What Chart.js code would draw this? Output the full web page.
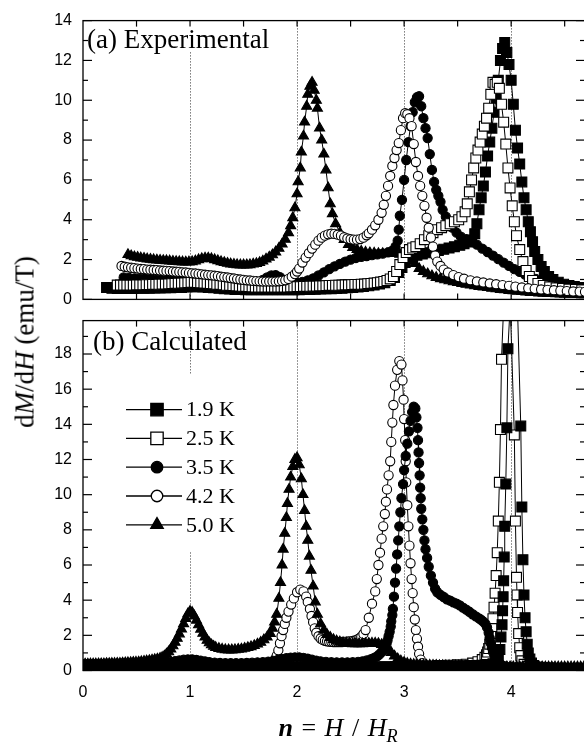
<!DOCTYPE html>
<html>
<head>
<meta charset="utf-8">
<script src="https://cdn.jsdelivr.net/npm/chart.js@4.4.1/dist/chart.umd.min.js"></script>
<style>
  html, body { margin:0; padding:0; background:#fff; }
  #wrap { position:relative; width:584px; height:747px; overflow:hidden; background:#fff; }
  #wrap canvas { position:absolute; left:0; }
  #top { top:0; }
  #bot { top:300px; }
  .serif { font-family:"Liberation Serif","Times New Roman",serif; color:#000; position:absolute; white-space:nowrap; }
  #ytitle { left:25px; top:342px; font-size:27px; line-height:27px; transform:translate(-50%,-50%) rotate(-90deg); }
  #xtitle { left:338px; top:713px; font-size:26px; line-height:30px; word-spacing:2px; transform:translateX(-50%); }
  #xtitle sub { font-size:70%; vertical-align:-0.35em; line-height:0; }
</style>
</head>
<body>
<div id="wrap">
  <canvas id="top" width="600" height="320" style="width:600px;height:320px"></canvas>
  <canvas id="bot" width="600" height="447" style="width:600px;height:447px"></canvas>
  <div id="ytitle" class="serif">d<i>M</i>/d<i>H</i> (emu/T)</div>
  <div id="xtitle" class="serif"><b><i>n</i></b> = <i>H</i> / <i>H</i><sub><i>R</i></sub></div>
</div>
<script>
// ---------- tick values ----------
const xTickLabels = [0, 1, 2, 3, 4];
const xTickMarks = [0.5, 1, 1.5, 2, 2.5, 3, 3.5, 4, 4.5];
const yTicksTop = [0, 2, 4, 6, 8, 10, 12, 14];
const yMinorTop = [1, 3, 5, 7, 9, 11, 13];
const yTicksBottom = [0, 2, 4, 6, 8, 10, 12, 14, 16, 18];
const yMinorBottom = [1, 3, 5, 7, 9, 11, 13, 15, 17, 19];
const seriesLabels = ['1.9 K', '2.5 K', '3.5 K', '4.2 K', '5.0 K'];

// ---------- (a) Experimental: [n, dM/dH] ----------
const exp19 = [[0.22,0.6],[0.27,0.56],[0.32,0.55],[0.37,0.55],[0.42,0.55],[0.47,0.55],[0.52,0.56],[0.57,0.56],[0.62,0.56],[0.67,0.57],[0.72,0.57],[0.77,0.58],[0.82,0.58],[0.87,0.6],[0.92,0.6],[0.97,0.62],[1.02,0.63],[1.07,0.63],[1.12,0.62],[1.17,0.6],[1.22,0.58],[1.27,0.56],[1.32,0.54],[1.37,0.52],[1.42,0.5],[1.47,0.5],[1.52,0.48],[1.57,0.48],[1.62,0.48],[1.67,0.48],[1.72,0.48],[1.77,0.48],[1.82,0.48],[1.87,0.48],[1.92,0.48],[1.97,0.48],[2.02,0.49],[2.07,0.5],[2.12,0.5],[2.17,0.51],[2.22,0.52],[2.27,0.53],[2.32,0.54],[2.37,0.55],[2.42,0.56],[2.47,0.58],[2.52,0.6],[2.57,0.62],[2.62,0.65],[2.67,0.68],[2.72,0.72],[2.77,0.77],[2.82,0.84],[2.87,0.95],[2.91,1.1],[2.95,1.35],[2.98,1.6],[3.01,1.85],[3.04,2.05],[3.08,2.15],[3.12,2.22],[3.17,2.28],[3.22,2.34],[3.27,2.4],[3.32,2.46],[3.37,2.52],[3.42,2.58],[3.47,2.65],[3.52,2.72],[3.56,2.8],[3.6,2.88],[3.63,2.98],[3.66,3.3],[3.68,3.8],[3.7,4.5],[3.72,5.1],[3.74,5.7],[3.76,6.4],[3.78,7.2],[3.8,7.9],[3.82,8.6],[3.84,9.4],[3.86,10.1],[3.88,11.0],[3.9,12.0],[3.92,12.6],[3.94,12.9],[3.96,12.4],[3.98,11.8],[4.0,11.0],[4.02,9.8],[4.04,8.5],[4.06,7.6],[4.08,6.8],[4.1,5.9],[4.12,5.1],[4.14,4.5],[4.16,3.9],[4.18,3.4],[4.2,2.9],[4.22,2.4],[4.25,2.0],[4.28,1.65],[4.31,1.4],[4.35,1.15],[4.39,1.0],[4.44,0.86],[4.49,0.76],[4.54,0.7],[4.59,0.65],[4.64,0.6],[4.69,0.57]];
const exp25 = [[0.32,0.72],[0.35,0.72],[0.38,0.72],[0.41,0.72],[0.44,0.72],[0.47,0.72],[0.5,0.73],[0.53,0.73],[0.56,0.73],[0.59,0.74],[0.62,0.74],[0.65,0.75],[0.68,0.75],[0.71,0.76],[0.74,0.77],[0.77,0.77],[0.8,0.78],[0.83,0.79],[0.86,0.8],[0.89,0.81],[0.92,0.82],[0.95,0.83],[0.98,0.84],[1.01,0.85],[1.04,0.85],[1.07,0.84],[1.1,0.83],[1.13,0.82],[1.16,0.8],[1.19,0.79],[1.22,0.78],[1.25,0.76],[1.28,0.75],[1.31,0.73],[1.34,0.71],[1.37,0.7],[1.4,0.69],[1.43,0.68],[1.46,0.67],[1.49,0.66],[1.52,0.65],[1.55,0.64],[1.58,0.63],[1.61,0.62],[1.64,0.62],[1.67,0.62],[1.7,0.62],[1.73,0.62],[1.76,0.62],[1.79,0.62],[1.82,0.62],[1.85,0.62],[1.88,0.62],[1.91,0.62],[1.94,0.63],[1.97,0.63],[2.0,0.64],[2.03,0.64],[2.06,0.65],[2.09,0.65],[2.12,0.66],[2.15,0.67],[2.18,0.67],[2.21,0.68],[2.24,0.68],[2.27,0.69],[2.3,0.7],[2.33,0.7],[2.36,0.71],[2.39,0.71],[2.42,0.72],[2.45,0.73],[2.48,0.73],[2.51,0.74],[2.54,0.75],[2.57,0.75],[2.6,0.76],[2.63,0.77],[2.66,0.79],[2.69,0.8],[2.72,0.82],[2.75,0.84],[2.78,0.87],[2.81,0.9],[2.84,0.95],[2.87,1.03],[2.9,1.15],[2.93,1.4],[2.96,1.75],[2.99,2.1],[3.02,2.35],[3.05,2.5],[3.08,2.58],[3.11,2.65],[3.15,2.8],[3.19,3.0],[3.23,3.2],[3.27,3.35],[3.31,3.5],[3.35,3.6],[3.39,3.7],[3.43,3.8],[3.47,3.9],[3.51,4.0],[3.54,4.15],[3.57,4.4],[3.59,4.8],[3.61,5.4],[3.63,6.0],[3.65,6.6],[3.67,7.1],[3.69,7.5],[3.71,7.9],[3.73,8.3],[3.75,8.7],[3.77,9.1],[3.79,9.6],[3.81,10.3],[3.83,10.9],[3.85,10.8],[3.87,10.9],[3.89,10.6],[3.91,9.8],[3.93,8.9],[3.95,7.8],[3.97,6.6],[3.99,5.6],[4.01,4.7],[4.03,3.9],[4.05,3.2],[4.08,2.5],[4.11,1.9],[4.14,1.45],[4.17,1.15],[4.2,0.95],[4.25,0.8],[4.3,0.7],[4.36,0.63],[4.42,0.58],[4.48,0.55],[4.54,0.52],[4.6,0.5],[4.66,0.48]];
const exp35 = [[0.38,1.1],[0.43,1.08],[0.48,1.06],[0.53,1.05],[0.58,1.04],[0.63,1.02],[0.68,1.0],[0.73,0.98],[0.78,0.97],[0.83,0.96],[0.88,0.95],[0.93,0.94],[0.98,0.93],[1.03,0.92],[1.08,0.9],[1.13,0.88],[1.18,0.86],[1.23,0.84],[1.28,0.82],[1.33,0.8],[1.38,0.78],[1.43,0.77],[1.48,0.77],[1.53,0.78],[1.58,0.8],[1.63,0.86],[1.68,0.98],[1.72,1.1],[1.76,1.2],[1.8,1.22],[1.84,1.12],[1.88,0.98],[1.92,0.88],[1.96,0.84],[2.0,0.84],[2.05,0.88],[2.1,0.96],[2.15,1.06],[2.2,1.2],[2.25,1.36],[2.3,1.52],[2.35,1.66],[2.4,1.78],[2.45,1.9],[2.5,2.0],[2.55,2.08],[2.6,2.14],[2.65,2.18],[2.7,2.22],[2.75,2.26],[2.8,2.3],[2.85,2.36],[2.89,2.45],[2.92,2.65],[2.94,2.95],[2.95,3.5],[2.96,4.2],[2.98,5.0],[3.0,6.0],[3.02,7.0],[3.04,7.9],[3.06,8.7],[3.08,9.4],[3.1,9.9],[3.12,10.15],[3.14,10.2],[3.16,9.7],[3.18,9.1],[3.2,8.6],[3.22,8.1],[3.24,7.3],[3.26,6.5],[3.28,5.9],[3.3,5.5],[3.32,5.2],[3.34,4.9],[3.36,4.5],[3.39,4.15],[3.42,3.85],[3.45,3.6],[3.49,3.35],[3.53,3.15],[3.58,3.02],[3.63,2.92],[3.68,2.75],[3.73,2.55],[3.78,2.38],[3.83,2.2],[3.88,2.02],[3.93,1.85],[3.98,1.68],[4.03,1.52],[4.08,1.38],[4.13,1.25],[4.18,1.13],[4.23,1.03],[4.28,0.95],[4.33,0.88],[4.38,0.82],[4.43,0.76],[4.48,0.71],[4.53,0.67],[4.58,0.63],[4.63,0.6],[4.68,0.57]];
const exp42 = [[0.36,1.68],[0.39,1.64],[0.42,1.61],[0.45,1.59],[0.48,1.57],[0.51,1.55],[0.54,1.53],[0.57,1.52],[0.6,1.5],[0.63,1.49],[0.66,1.48],[0.69,1.47],[0.72,1.45],[0.75,1.44],[0.78,1.43],[0.81,1.42],[0.84,1.4],[0.87,1.39],[0.9,1.38],[0.93,1.36],[0.96,1.35],[0.99,1.33],[1.02,1.31],[1.05,1.3],[1.08,1.28],[1.11,1.26],[1.14,1.24],[1.17,1.22],[1.2,1.21],[1.23,1.19],[1.26,1.17],[1.29,1.14],[1.32,1.12],[1.35,1.1],[1.38,1.07],[1.41,1.05],[1.44,1.02],[1.47,1.0],[1.5,0.98],[1.53,0.96],[1.56,0.95],[1.59,0.93],[1.62,0.92],[1.65,0.91],[1.68,0.9],[1.71,0.9],[1.74,0.9],[1.77,0.9],[1.8,0.9],[1.83,0.91],[1.86,0.93],[1.89,0.96],[1.92,1.03],[1.95,1.14],[1.98,1.27],[2.0,1.4],[2.02,1.55],[2.05,1.85],[2.08,2.1],[2.11,2.32],[2.14,2.55],[2.17,2.75],[2.2,2.95],[2.23,3.1],[2.26,3.2],[2.29,3.27],[2.32,3.3],[2.35,3.29],[2.38,3.25],[2.41,3.2],[2.44,3.12],[2.47,3.06],[2.5,3.02],[2.53,3.0],[2.56,3.0],[2.59,3.03],[2.62,3.1],[2.65,3.22],[2.67,3.32],[2.7,3.5],[2.73,3.72],[2.76,4.0],[2.79,4.35],[2.81,4.75],[2.83,5.2],[2.85,5.7],[2.87,6.2],[2.89,6.7],[2.91,7.1],[2.93,7.5],[2.95,7.85],[2.97,8.5],[2.99,9.1],[3.01,9.35],[3.03,9.3],[3.05,9.1],[3.07,8.7],[3.09,7.8],[3.11,6.9],[3.13,6.2],[3.15,5.7],[3.17,5.2],[3.19,4.7],[3.21,4.1],[3.23,3.6],[3.25,3.1],[3.27,2.65],[3.29,2.2],[3.31,1.9],[3.34,1.68],[3.37,1.5],[3.41,1.35],[3.46,1.22],[3.51,1.12],[3.56,1.04],[3.62,0.96],[3.68,0.9],[3.74,0.85],[3.8,0.8],[3.86,0.76],[3.92,0.72],[3.98,0.68],[4.04,0.64],[4.1,0.6],[4.16,0.56],[4.22,0.53],[4.28,0.5],[4.34,0.48],[4.4,0.46],[4.46,0.44],[4.52,0.42],[4.58,0.4],[4.64,0.39],[4.69,0.38]];
const exp50 = [[0.42,2.25],[0.45,2.19],[0.48,2.14],[0.51,2.11],[0.54,2.08],[0.57,2.06],[0.6,2.03],[0.63,2.01],[0.66,1.99],[0.69,1.97],[0.72,1.96],[0.75,1.95],[0.78,1.94],[0.81,1.93],[0.84,1.91],[0.87,1.9],[0.9,1.89],[0.93,1.88],[0.96,1.87],[0.99,1.88],[1.02,1.89],[1.05,1.93],[1.08,1.99],[1.11,2.04],[1.14,2.07],[1.17,2.07],[1.2,2.04],[1.23,1.99],[1.26,1.94],[1.29,1.89],[1.32,1.85],[1.35,1.81],[1.38,1.78],[1.41,1.76],[1.44,1.74],[1.47,1.73],[1.5,1.73],[1.53,1.73],[1.56,1.74],[1.59,1.77],[1.62,1.8],[1.65,1.85],[1.68,1.92],[1.71,2.02],[1.74,2.12],[1.77,2.24],[1.8,2.38],[1.83,2.56],[1.86,2.78],[1.89,3.02],[1.92,3.35],[1.94,3.7],[1.96,4.1],[1.98,4.6],[2.0,5.3],[2.01,5.9],[2.03,6.6],[2.04,7.4],[2.06,8.2],[2.07,8.9],[2.09,9.7],[2.1,10.3],[2.12,10.7],[2.14,10.9],[2.16,10.5],[2.18,10.0],[2.19,9.6],[2.21,8.6],[2.23,8.0],[2.25,7.3],[2.27,6.5],[2.29,5.6],[2.31,4.8],[2.33,4.3],[2.36,3.8],[2.4,3.35],[2.44,3.0],[2.48,2.75],[2.52,2.6],[2.56,2.5],[2.6,2.42],[2.64,2.37],[2.68,2.34],[2.72,2.32],[2.76,2.3],[2.8,2.3],[2.84,2.3],[2.88,2.3],[2.92,2.3],[2.96,2.26],[3.0,2.18],[3.03,2.12],[3.06,2.08],[3.1,1.8],[3.14,1.55],[3.18,1.4],[3.22,1.28],[3.26,1.18],[3.3,1.1],[3.34,1.04],[3.38,0.98],[3.42,0.93],[3.46,0.88],[3.5,0.84],[3.54,0.8],[3.58,0.76],[3.62,0.72],[3.66,0.68],[3.7,0.65],[3.74,0.62],[3.78,0.59],[3.82,0.56],[3.86,0.53],[3.9,0.5],[3.94,0.48],[3.98,0.45],[4.02,0.43],[4.06,0.41],[4.1,0.39],[4.14,0.37],[4.18,0.35],[4.22,0.34],[4.26,0.32],[4.3,0.31],[4.34,0.3],[4.38,0.29],[4.42,0.28],[4.46,0.27],[4.5,0.26],[4.54,0.25],[4.58,0.25],[4.62,0.24],[4.66,0.23],[4.69,0.23]];

// ---------- (b) Calculated: [n, dM/dH] ----------
const calc19 = [[0.02,0.1],[0.07,0.1],[0.12,0.1],[0.17,0.1],[0.22,0.1],[0.27,0.1],[0.32,0.1],[0.37,0.1],[0.42,0.11],[0.47,0.11],[0.52,0.11],[0.57,0.11],[0.62,0.11],[0.67,0.11],[0.72,0.12],[0.77,0.12],[0.82,0.12],[0.87,0.12],[0.92,0.12],[0.97,0.13],[1.02,0.13],[1.07,0.13],[1.12,0.13],[1.17,0.13],[1.22,0.13],[1.27,0.13],[1.32,0.13],[1.37,0.13],[1.42,0.14],[1.47,0.14],[1.52,0.14],[1.57,0.14],[1.62,0.14],[1.67,0.14],[1.72,0.14],[1.77,0.15],[1.82,0.15],[1.87,0.15],[1.92,0.15],[1.97,0.16],[2.02,0.16],[2.07,0.16],[2.12,0.16],[2.17,0.16],[2.22,0.17],[2.27,0.17],[2.32,0.17],[2.37,0.17],[2.42,0.18],[2.47,0.18],[2.52,0.18],[2.57,0.18],[2.62,0.19],[2.67,0.19],[2.72,0.19],[2.77,0.2],[2.82,0.2],[2.87,0.2],[2.92,0.21],[2.97,0.21],[3.02,0.21],[3.07,0.22],[3.12,0.22],[3.17,0.22],[3.22,0.23],[3.27,0.23],[3.32,0.24],[3.37,0.24],[3.42,0.25],[3.47,0.25],[3.52,0.26],[3.57,0.27],[3.62,0.28],[3.67,0.29],[3.72,0.3],[3.76,0.32],[3.8,0.34],[3.83,0.38],[3.86,0.45],[3.88,0.65],[3.895,1.2],[3.905,1.9],[3.915,2.6],[3.92,3.4],[3.925,4.2],[3.93,5.1],[3.935,6.45],[3.94,8.2],[3.95,10.6],[3.96,13.8],[3.97,18.3],[4.035,26],[4.09,13.9],[4.1,9.3],[4.11,6.3],[4.12,4.3],[4.13,3.0],[4.14,2.2],[4.15,1.5],[4.16,1.0],[4.175,0.65],[4.19,0.42],[4.21,0.28],[4.25,0.2],[4.3,0.16],[4.35,0.14],[4.4,0.13],[4.45,0.12],[4.5,0.12],[4.55,0.11],[4.6,0.11],[4.65,0.11],[4.69,0.1]];
const calc25 = [[0.02,0.12],[0.12,0.12],[0.22,0.12],[0.32,0.12],[0.42,0.13],[0.52,0.13],[0.62,0.13],[0.72,0.14],[0.82,0.14],[0.92,0.15],[1.02,0.15],[1.12,0.15],[1.22,0.15],[1.32,0.15],[1.42,0.15],[1.52,0.16],[1.62,0.16],[1.72,0.16],[1.82,0.17],[1.92,0.17],[2.02,0.18],[2.12,0.18],[2.22,0.18],[2.32,0.19],[2.42,0.19],[2.52,0.2],[2.62,0.2],[2.72,0.21],[2.82,0.22],[2.92,0.23],[3.02,0.24],[3.12,0.25],[3.22,0.26],[3.32,0.28],[3.42,0.3],[3.5,0.32],[3.58,0.36],[3.64,0.42],[3.69,0.5],[3.73,0.62],[3.755,0.75],[3.77,0.9],[3.78,1.05],[3.79,1.25],[3.8,1.5],[3.805,1.8],[3.81,2.1],[3.82,2.5],[3.83,2.95],[3.84,3.6],[3.85,4.4],[3.86,5.4],[3.87,6.7],[3.88,8.5],[3.89,10.7],[3.9,13.7],[3.91,17.7],[3.965,26],[4.03,13.4],[4.04,8.5],[4.05,5.3],[4.055,4.3],[4.06,3.3],[4.07,2.1],[4.08,1.3],[4.09,0.85],[4.1,0.55],[4.12,0.35],[4.15,0.24],[4.2,0.18],[4.3,0.14],[4.4,0.12],[4.5,0.11],[4.6,0.1],[4.69,0.1]];
const calc35 = [[0.02,0.38],[0.07,0.38],[0.12,0.38],[0.17,0.38],[0.22,0.39],[0.27,0.39],[0.32,0.39],[0.37,0.4],[0.42,0.4],[0.47,0.4],[0.52,0.41],[0.57,0.41],[0.62,0.42],[0.67,0.43],[0.72,0.44],[0.77,0.46],[0.82,0.49],[0.86,0.53],[0.9,0.57],[0.94,0.61],[0.98,0.63],[1.02,0.63],[1.06,0.6],[1.1,0.56],[1.14,0.52],[1.18,0.48],[1.23,0.45],[1.28,0.43],[1.33,0.42],[1.38,0.42],[1.43,0.42],[1.48,0.42],[1.53,0.43],[1.58,0.44],[1.63,0.46],[1.68,0.48],[1.73,0.51],[1.78,0.55],[1.82,0.6],[1.86,0.65],[1.9,0.7],[1.94,0.73],[1.98,0.75],[2.02,0.75],[2.06,0.72],[2.1,0.67],[2.14,0.61],[2.18,0.56],[2.22,0.52],[2.27,0.49],[2.32,0.47],[2.37,0.46],[2.42,0.46],[2.47,0.46],[2.52,0.47],[2.57,0.49],[2.61,0.52],[2.65,0.57],[2.69,0.64],[2.72,0.72],[2.75,0.82],[2.77,0.92],[2.79,1.05],[2.81,1.17],[2.82,1.3],[2.835,1.5],[2.845,1.7],[2.855,1.95],[2.865,2.2],[2.875,2.5],[2.88,2.8],[2.89,3.15],[2.895,3.5],[2.905,4.2],[2.915,5.0],[2.925,5.8],[2.935,6.6],[2.945,7.4],[2.955,8.2],[2.965,9.0],[2.975,9.8],[2.99,10.6],[3.0,11.4],[3.015,12.2],[3.03,12.9],[3.045,13.6],[3.06,14.2],[3.075,14.7],[3.09,15.0],[3.105,14.9],[3.115,14.4],[3.125,13.8],[3.13,13.1],[3.135,12.4],[3.14,11.8],[3.145,11.1],[3.15,10.4],[3.155,9.8],[3.16,9.2],[3.17,8.6],[3.18,8.0],[3.19,7.4],[3.2,6.9],[3.215,6.4],[3.23,5.9],[3.25,5.4],[3.27,5.0],[3.29,4.65],[3.31,4.45],[3.34,4.3],[3.37,4.18],[3.4,4.05],[3.43,3.97],[3.46,3.88],[3.49,3.8],[3.52,3.7],[3.55,3.58],[3.58,3.46],[3.61,3.34],[3.64,3.2],[3.67,3.08],[3.7,2.96],[3.72,2.88],[3.74,2.78],[3.76,2.65],[3.775,2.45],[3.79,2.15],[3.8,1.85],[3.81,1.55],[3.82,1.3],[3.83,1.05],[3.845,0.8],[3.86,0.6],[3.88,0.42],[3.91,0.3],[3.95,0.24],[4.0,0.2],[4.05,0.18],[4.1,0.17],[4.2,0.16],[4.3,0.15],[4.4,0.15],[4.5,0.14],[4.6,0.14],[4.69,0.14]];
const calc42 = [[0.02,0.26],[0.1,0.26],[0.2,0.27],[0.3,0.27],[0.4,0.28],[0.5,0.28],[0.6,0.29],[0.7,0.3],[0.8,0.31],[0.9,0.33],[1.0,0.35],[1.1,0.34],[1.2,0.33],[1.3,0.33],[1.4,0.34],[1.5,0.35],[1.6,0.37],[1.68,0.4],[1.74,0.45],[1.78,0.55],[1.795,0.65],[1.81,0.85],[1.825,1.15],[1.84,1.55],[1.855,1.95],[1.87,2.3],[1.885,2.65],[1.9,3.0],[1.92,3.35],[1.945,3.75],[1.97,4.1],[2.0,4.45],[2.03,4.6],[2.06,4.5],[2.085,4.2],[2.1,3.9],[2.12,3.5],[2.135,3.1],[2.15,2.75],[2.165,2.4],[2.18,2.15],[2.2,1.95],[2.22,1.82],[2.24,1.74],[2.26,1.69],[2.28,1.66],[2.3,1.64],[2.32,1.63],[2.34,1.62],[2.36,1.62],[2.38,1.62],[2.4,1.62],[2.42,1.62],[2.44,1.63],[2.46,1.64],[2.48,1.65],[2.5,1.66],[2.52,1.68],[2.54,1.71],[2.56,1.75],[2.58,1.82],[2.6,1.92],[2.62,2.08],[2.64,2.3],[2.67,3.0],[2.7,3.8],[2.73,4.5],[2.745,5.2],[2.76,6.0],[2.775,6.7],[2.79,7.5],[2.805,8.2],[2.82,8.9],[2.83,9.6],[2.84,10.3],[2.855,11.1],[2.87,11.9],[2.88,13.0],[2.89,14.1],[2.9,15.1],[2.915,16.2],[2.935,17.1],[2.955,17.6],[2.975,17.4],[2.985,16.5],[2.995,15.4],[3.0,14.3],[3.01,13.1],[3.015,11.9],[3.02,10.7],[3.03,9.4],[3.04,8.2],[3.05,7.1],[3.06,6.1],[3.07,5.2],[3.08,4.4],[3.09,3.6],[3.1,2.9],[3.11,2.3],[3.12,1.8],[3.13,1.35],[3.14,0.95],[3.155,0.62],[3.17,0.42],[3.2,0.26],[3.25,0.18],[3.3,0.15],[3.4,0.12],[3.55,0.1],[3.7,0.09],[3.85,0.08],[4.0,0.08],[4.15,0.07],[4.3,0.07],[4.45,0.07],[4.6,0.07],[4.69,0.07]];
const calc50 = [[0.02,0.36],[0.045,0.36],[0.07,0.37],[0.095,0.37],[0.12,0.37],[0.145,0.38],[0.17,0.38],[0.195,0.38],[0.22,0.39],[0.245,0.39],[0.27,0.4],[0.295,0.4],[0.32,0.41],[0.345,0.41],[0.37,0.42],[0.395,0.43],[0.42,0.44],[0.445,0.45],[0.47,0.46],[0.495,0.47],[0.52,0.48],[0.545,0.5],[0.57,0.52],[0.595,0.54],[0.62,0.56],[0.645,0.59],[0.67,0.62],[0.695,0.65],[0.72,0.69],[0.74,0.74],[0.76,0.82],[0.78,0.93],[0.8,1.06],[0.82,1.22],[0.84,1.4],[0.86,1.6],[0.88,1.83],[0.9,2.08],[0.92,2.36],[0.94,2.66],[0.96,2.96],[0.98,3.22],[1.0,3.36],[1.02,3.3],[1.04,3.1],[1.06,2.86],[1.08,2.6],[1.1,2.35],[1.12,2.11],[1.14,1.9],[1.16,1.72],[1.18,1.57],[1.2,1.46],[1.22,1.37],[1.24,1.31],[1.27,1.25],[1.3,1.21],[1.33,1.18],[1.36,1.17],[1.39,1.17],[1.42,1.18],[1.45,1.2],[1.48,1.22],[1.51,1.26],[1.54,1.3],[1.57,1.35],[1.6,1.42],[1.63,1.5],[1.66,1.6],[1.69,1.74],[1.72,1.9],[1.75,2.1],[1.77,2.4],[1.79,2.75],[1.81,3.2],[1.83,4.1],[1.845,5.0],[1.86,6.0],[1.87,6.9],[1.885,7.8],[1.9,8.7],[1.91,9.5],[1.925,10.3],[1.94,11.0],[1.96,11.6],[1.98,12.0],[2.0,12.1],[2.02,11.7],[2.04,10.9],[2.055,10.0],[2.07,9.1],[2.085,8.2],[2.1,7.4],[2.115,6.5],[2.13,5.7],[2.15,4.8],[2.17,3.9],[2.19,3.2],[2.22,2.65],[2.25,2.3],[2.28,2.05],[2.31,1.88],[2.34,1.76],[2.37,1.68],[2.4,1.62],[2.43,1.58],[2.46,1.55],[2.49,1.53],[2.52,1.52],[2.55,1.52],[2.58,1.52],[2.61,1.52],[2.64,1.53],[2.67,1.54],[2.7,1.55],[2.73,1.55],[2.76,1.53],[2.79,1.47],[2.82,1.37],[2.85,1.22],[2.88,1.02],[2.91,0.82],[2.94,0.66],[2.97,0.54],[3.0,0.46],[3.03,0.4],[3.06,0.36],[3.09,0.34],[3.12,0.33],[3.15,0.32],[3.18,0.31],[3.21,0.3],[3.24,0.3],[3.27,0.29],[3.3,0.29],[3.33,0.28],[3.36,0.28],[3.39,0.27],[3.42,0.27],[3.45,0.26],[3.48,0.26],[3.51,0.26],[3.54,0.25],[3.57,0.25],[3.6,0.25],[3.63,0.24],[3.66,0.24],[3.69,0.24],[3.72,0.23],[3.75,0.23],[3.78,0.23],[3.81,0.23],[3.84,0.22],[3.87,0.22],[3.9,0.22],[3.93,0.22],[3.96,0.21],[3.99,0.21],[4.02,0.21],[4.05,0.21],[4.08,0.21],[4.11,0.2],[4.14,0.2],[4.17,0.2],[4.2,0.2],[4.23,0.2],[4.26,0.2],[4.29,0.2],[4.32,0.2],[4.35,0.2],[4.38,0.2],[4.41,0.2],[4.44,0.2],[4.47,0.2],[4.5,0.2],[4.53,0.2],[4.56,0.2],[4.59,0.2],[4.62,0.2],[4.65,0.2],[4.68,0.2]];

// ---------- styling ----------
const markerStyle = {
  '1.9 K': { shape: 'rect',     fill: '#000', r: 7 },
  '2.5 K': { shape: 'rect',     fill: '#fff', r: 7 },
  '3.5 K': { shape: 'circle',   fill: '#000', r: 4.6 },
  '4.2 K': { shape: 'circle',   fill: '#fff', r: 4.6 },
  '5.0 K': { shape: 'triangle', fill: '#000', r: 5.8 }
};
const X_MAX = 4.69;

function mkDataset(label, pts, order) {
  const st = markerStyle[label];
  return {
    label, order,
    data: pts.map(p => ({ x: p[0], y: p[1] })),
    showLine: true, borderColor: '#000', borderWidth: 1, tension: 0, fill: false,
    pointStyle: st.shape, pointRadius: st.r, pointHoverRadius: st.r,
    pointBackgroundColor: st.fill, pointBorderColor: '#000', pointBorderWidth: 1.1
  };
}

const panelDeco = {
  id: 'panelDeco',
  beforeDatasetsDraw(chart, args, o) {
    const { ctx, scales: { x, y } } = chart;
    ctx.save();
    ctx.strokeStyle = '#333'; ctx.lineWidth = 1; ctx.setLineDash([1, 2]);
    o.dotted.forEach(s => {
      const px = Math.round(x.getPixelForValue(s.n)) + 0.5;
      ctx.beginPath();
      ctx.moveTo(px, y.getPixelForValue(s.from));
      ctx.lineTo(px, y.getPixelForValue(s.to));
      ctx.stroke();
    });
    ctx.restore();
  },
  afterDatasetsDraw(chart, args, o) {
    const { ctx, chartArea: a, scales: { x, y } } = chart;
    ctx.save();
    ctx.setLineDash([]);
    ctx.strokeStyle = '#000';
    const seg = (x1, y1, x2, y2) => { ctx.beginPath(); ctx.moveTo(x1, y1); ctx.lineTo(x2, y2); ctx.stroke(); };
    ctx.lineWidth = 1.3;
    ctx.strokeRect(a.left, a.top, a.right - a.left, a.bottom - a.top);
    ctx.lineWidth = 1.2;
    xTickMarks.forEach(v => { const px = x.getPixelForValue(v); seg(px, a.top, px, a.top + 6); seg(px, a.bottom, px, a.bottom - 6); });
    o.yMajor.forEach(v => { const py = y.getPixelForValue(v); seg(a.left, py, a.left + 9, py); seg(a.right, py, a.right - 9, py); });
    o.yMinor.forEach(v => { const py = y.getPixelForValue(v); seg(a.left, py, a.left + 5, py); seg(a.right, py, a.right - 5, py); });
    ctx.fillStyle = '#000';
    ctx.font = '27px "Liberation Serif", "Times New Roman", serif';
    ctx.textAlign = 'left'; ctx.textBaseline = 'alphabetic';
    ctx.fillText(o.label, a.left + o.labelDx, a.top + o.labelDy);
    if (o.legend) {
      const L = o.legend;
      seriesLabels.forEach((lab, i) => {
        const ds = chart.data.datasets.find(d => d.label === lab);
        const cy = a.top + L.dy + i * L.step;
        ctx.strokeStyle = '#000'; ctx.lineWidth = 1.3;
        seg(a.left + L.x1, cy, a.left + L.x2, cy);
        ctx.fillStyle = ds.pointBackgroundColor; ctx.lineWidth = 1.3;
        Chart.helpers.drawPoint(ctx, { pointStyle: ds.pointStyle, radius: ds.pointRadius * 1.25, rotation: 0, borderWidth: 1.3 }, a.left + L.xm, cy);
        ctx.fillStyle = '#000';
        ctx.font = '22px "Liberation Serif", "Times New Roman", serif';
        ctx.textBaseline = 'middle';
        ctx.fillText(lab, a.left + L.xt, cy + 1);
      });
    }
    ctx.restore();
  }
};

Chart.defaults.font.family = '"Liberation Sans", Arial, sans-serif';
Chart.defaults.color = '#000';

function yAxis(max, ticks) {
  return {
    type: 'linear', min: 0, max: max,
    grid: { display: false, drawTicks: false }, border: { display: false },
    ticks: { font: { size: 16 }, padding: 11, color: '#000' },
    afterBuildTicks: s => { s.ticks = ticks.map(v => ({ value: v })); },
    afterFit: s => { s.width = 83; }
  };
}

new Chart(document.getElementById('top'), {
  type: 'scatter',
  data: { datasets: [
    mkDataset('4.2 K', exp42, 0),
    mkDataset('2.5 K', exp25, 1),
    mkDataset('3.5 K', exp35, 2),
    mkDataset('1.9 K', exp19, 3),
    mkDataset('5.0 K', exp50, 4)
  ]},
  options: {
    responsive: false, animation: false, events: [],
    layout: { padding: { left: 0, right: 15, top: 13, bottom: 11 } },
    scales: {
      x: { type: 'linear', min: 0, max: X_MAX, display: false },
      y: yAxis(14, yTicksTop)
    },
    plugins: {
      legend: { display: false }, tooltip: { enabled: false },
      panelDeco: {
        label: '(a) Experimental', labelDx: 4, labelDy: 27,
        yMajor: yTicksTop, yMinor: yMinorTop,
        dotted: [ { n: 1, from: 0, to: 12.5 }, { n: 2, from: 0, to: 14 }, { n: 3, from: 0, to: 14 }, { n: 4, from: 0, to: 14 } ]
      }
    }
  },
  plugins: [panelDeco]
});

new Chart(document.getElementById('bot'), {
  type: 'scatter',
  data: { datasets: [
    mkDataset('5.0 K', calc50, 0),
    mkDataset('1.9 K', calc19, 1),
    mkDataset('3.5 K', calc35, 2),
    mkDataset('2.5 K', calc25, 3),
    mkDataset('4.2 K', calc42, 4)
  ]},
  options: {
    responsive: false, animation: false, events: [],
    layout: { padding: { left: 0, right: 15, top: 9, bottom: 0 } },
    scales: {
      x: {
        type: 'linear', min: 0, max: X_MAX, position: 'bottom',
        grid: { display: false, drawTicks: false }, border: { display: false },
        ticks: { font: { size: 16 }, padding: 12, color: '#000', maxRotation: 0, autoSkip: false },
        afterBuildTicks: s => { s.ticks = xTickLabels.map(v => ({ value: v })); },
        afterFit: s => { s.height = 76.5; }
      },
      y: yAxis(19.9, yTicksBottom)
    },
    plugins: {
      legend: { display: false }, tooltip: { enabled: false },
      panelDeco: {
        label: '(b) Calculated', labelDx: 10, labelDy: 29,
        yMajor: yTicksBottom, yMinor: yMinorBottom,
        legend: { dy: 89, step: 28.8, x1: 43, x2: 99, xm: 74, xt: 103 },
        dotted: [ { n: 1, from: 0, to: 6.8 }, { n: 1, from: 16.9, to: 19.9 }, { n: 2, from: 0, to: 19.9 }, { n: 3, from: 0, to: 19.9 }, { n: 4, from: 0, to: 19.9 } ]
      }
    }
  },
  plugins: [panelDeco]
});
</script>
</body>
</html>
